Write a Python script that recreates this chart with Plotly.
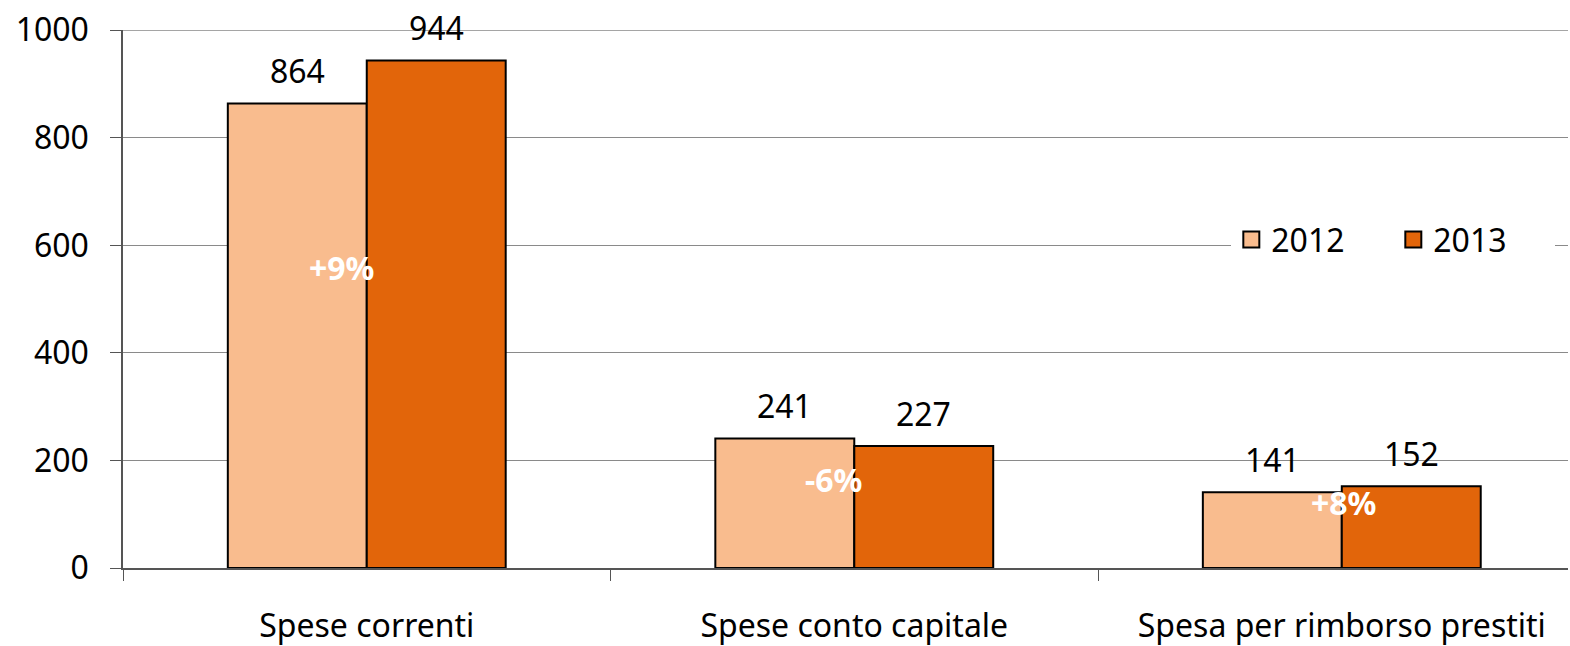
import plotly.graph_objects as go

categories = ["Spese correnti", "Spese conto capitale", "Spesa per rimborso prestiti"]
values_2012 = [864, 241, 141]
values_2013 = [944, 227, 152]
change_labels = ["+9%", "-6%", "+8%"]
change_y = [558, 164, 121]

FONT = "Noto Sans"
C2012 = "#F9BC8E"
C2013 = "#E2650A"
FS = 32
change_xshift = [-25, -21, 2]  # label placement offsets (px)

fig = go.Figure()
fig.add_bar(name="2012", x=categories, y=values_2012,
            marker=dict(color=C2012, line=dict(color="black", width=2)), showlegend=False)
fig.add_bar(name="2013", x=categories, y=values_2013,
            marker=dict(color=C2013, line=dict(color="black", width=2)), showlegend=False)
# legend entries with larger square swatches
for name, col in [("2012", C2012), ("2013", C2013)]:
    fig.add_scatter(name=name, x=[categories[0]], y=[None], mode="markers",
                    marker=dict(symbol="square", size=20, color=col, line=dict(color="black", width=2)))

# value labels above bars
for vals, dx in [(values_2012, -69.5), (values_2013, 69.5)]:
    for c, v in zip(categories, vals):
        fig.add_annotation(x=c, y=v, text=str(v), showarrow=False, xshift=dx,
                           yanchor="bottom", yshift=9,
                           font=dict(family=FONT, size=FS, color="black"))

for c, t, y, dx in zip(categories, change_labels, change_y, change_xshift):
    fig.add_annotation(x=c, y=y, text="<b>%s</b>" % t, showarrow=False, xshift=dx,
                       font=dict(family=FONT, size=FS, color="white"))

# top gridline at 1000 (plotly hides the grid line at the axis edge)
fig.add_shape(type="line", xref="paper", x0=0, x1=1, yref="y", y0=1000, y1=1000,
              line=dict(color="#8a8a8a", width=1), layer="below")

fig.update_layout(
    width=1570, height=646,
    margin=dict(l=123, r=2, t=30, b=78, autoexpand=False),
    paper_bgcolor="white", plot_bgcolor="white",
    barmode="group", bargap=0.43, bargroupgap=0,
    font=dict(family=FONT, size=FS, color="black"),
    legend=dict(orientation="h", x=0.767, y=0.61, xanchor="left", yanchor="middle",
                bgcolor="white", font=dict(size=FS), entrywidth=117,
                traceorder="normal"),
)
fig.update_xaxes(range=[-0.5, 2.464], showline=True, linecolor="#555", linewidth=1.5,
                 ticks="outside", tickson="boundaries", ticklen=11, tickcolor="#555",
                 showgrid=False, ticklabelstandoff=29, automargin=False)
fig.update_yaxes(range=[0, 1000.5], tickvals=[0, 200, 400, 600, 800, 1000],
                 showline=True, linecolor="#555", linewidth=1.5,
                 ticks="outside", ticklen=11, tickcolor="#555",
                 showgrid=True, gridcolor="#8a8a8a", gridwidth=1, zeroline=False,
                 ticklabelstandoff=15, automargin=False)
fig.write_html("out.html", config={"displayModeBar": False},
               post_script="document.body.style.margin='0';")
